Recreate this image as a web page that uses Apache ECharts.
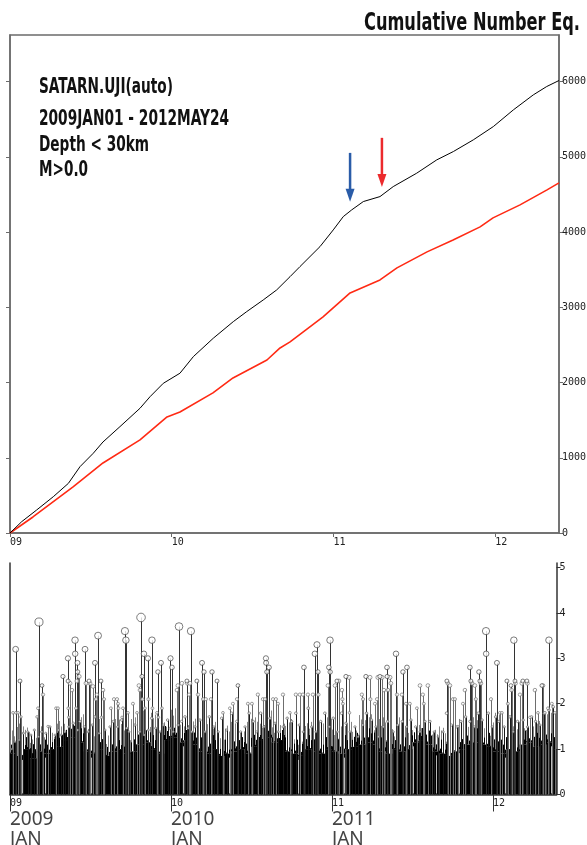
<!DOCTYPE html>
<html><head><meta charset="utf-8">
<script src="https://cdn.jsdelivr.net/npm/echarts@6/dist/echarts.min.js"></script>
<style>html,body{margin:0;padding:0;background:#fff}#c{width:587px;height:845px}</style>
</head><body><div id="c"></div>
<script>
// ---------- DATA ----------
const titleText = 'Cumulative Number Eq.';
const headerLines = ['SATARN.UJI(auto)', '2009JAN01 - 2012MAY24', 'Depth < 30km', 'M>0.0'];
const yearTickValues = [2009, 2010, 2011, 2012];
const yearTickLabels = ['09', '10', '11', '12'];
const bigYearLabels = ['2009', '2010', '2011'];
const monthLabel = 'JAN';
const cumTicks = [0, 1000, 2000, 3000, 4000, 5000, 6000];
const magTicks = [0, 1, 2, 3, 4, 5];

// cumulative number (all) : [decimal year, count]
const cumAll = [[2009.000,0],[2009.072,150],[2009.165,306],[2009.268,483],[2009.361,660],[2009.433,882],[2009.515,1060],[2009.575,1210],[2009.680,1414],[2009.804,1658],[2009.866,1812],[2009.948,1990],[2010.051,2124],[2010.134,2345],[2010.257,2589],[2010.381,2810],[2010.464,2943],[2010.566,3098],[2010.649,3231],[2010.732,3408],[2010.793,3541],[2010.917,3807],[2010.999,4029],[2011.061,4206],[2011.113,4295],[2011.185,4406],[2011.288,4472],[2011.370,4605],[2011.515,4783],[2011.639,4960],[2011.742,5071],[2011.865,5226],[2011.989,5403],[2012.113,5625],[2012.236,5824],[2012.319,5935],[2012.395,6015]];
// cumulative number (red) : [decimal year, count]
const cumRed = [[2009.000,0],[2009.142,213],[2009.390,612],[2009.575,931],[2009.804,1237],[2009.971,1543],[2010.051,1609],[2010.255,1862],[2010.379,2061],[2010.589,2300],[2010.670,2460],[2010.732,2540],[2010.936,2872],[2011.103,3191],[2011.288,3364],[2011.393,3524],[2011.579,3737],[2011.740,3896],[2011.907,4069],[2011.987,4189],[2012.154,4362],[2012.321,4561],[2012.395,4654]];
// arrows: [decimal year, count at tail, count at tip]
const arrowsData = [[2011.103, 5053, 4402], [2011.300, 5253, 4601]];

// events [decimal year, magnitude]
const bigEvents = [[2009.035,3.2],[2009.062,2.5],[2009.180,3.8],[2009.199,2.4],[2009.329,2.6],[2009.360,3.0],[2009.361,2.5],[2009.404,3.4],[2009.405,3.1],[2009.419,2.9],[2009.420,2.7],[2009.466,3.2],[2009.491,2.5],[2009.528,2.9],[2009.547,3.5],[2009.565,2.5],[2009.714,3.6],[2009.720,3.4],[2009.814,3.9],[2009.832,3.1],[2009.820,2.6],[2009.857,3.0],[2009.882,3.4],[2009.919,2.7],[2009.938,2.9],[2009.997,3.0],[2010.006,2.8],[2010.050,3.7],[2010.124,3.6],[2010.099,2.5],[2010.161,2.5],[2010.193,2.9],[2010.205,2.7],[2010.255,2.7],[2010.286,2.5],[2010.416,2.4],[2010.590,3.0],[2010.591,2.9],[2010.609,2.8],[2010.596,2.7],[2010.826,2.8],[2010.894,3.1],[2010.907,3.3],[2010.913,2.7],[2010.988,3.4],[2010.981,2.8],[2010.989,2.7],[2011.031,2.5],[2011.087,2.6],[2011.211,2.6],[2011.298,2.6],[2011.342,2.8],[2011.343,2.6],[2011.398,3.1],[2011.441,2.7],[2011.466,2.8],[2011.714,2.5],[2011.857,2.8],[2011.913,2.7],[2011.863,2.5],[2011.919,2.5],[2011.957,3.6],[2011.958,3.1],[2012.025,2.9],[2012.130,3.4],[2012.087,2.5],[2012.137,2.5],[2012.186,2.5],[2012.211,2.5],[2012.348,3.4],[2012.112,2.4],[2012.304,2.4]];
const midEvents = [[2009.019,1.8],[2009.037,1.8],[2009.050,1.8],[2009.068,1.71],[2009.168,1.71],[2009.174,1.9],[2009.205,2.2],[2009.236,1.5],[2009.286,1.9],[2009.298,1.9],[2009.362,1.9],[2009.365,1.7],[2009.373,2.45],[2009.385,2.3],[2009.410,1.9],[2009.416,2.5],[2009.429,2.6],[2009.472,2.45],[2009.497,2.45],[2009.516,2.38],[2009.534,2.1],[2009.540,2.2],[2009.568,1.7],[2009.578,2.3],[2009.584,2.1],[2009.627,1.9],[2009.646,2.1],[2009.665,2.1],[2009.671,2.0],[2009.674,1.9],[2009.696,1.7],[2009.702,1.9],[2009.733,1.8],[2009.764,2.0],[2009.789,1.8],[2009.801,2.4],[2009.807,2.3],[2009.823,2.1],[2009.838,1.9],[2009.860,2.1],[2009.885,1.9],[2009.913,1.8],[2009.922,1.7],[2009.944,1.9],[2010.037,2.3],[2010.043,2.4],[2010.068,2.45],[2010.102,2.45],[2010.118,2.45],[2010.112,2.2],[2010.168,2.2],[2010.199,2.1],[2010.217,2.1],[2010.248,2.1],[2010.323,1.8],[2010.366,1.9],[2010.385,2.0],[2010.410,2.1],[2010.478,2.0],[2010.503,2.0],[2010.540,2.2],[2010.571,2.1],[2010.584,2.1],[2010.634,2.1],[2010.652,2.1],[2010.665,2.0],[2010.696,2.2],[2010.739,1.8],[2010.776,2.2],[2010.801,2.2],[2010.820,2.2],[2010.851,2.2],[2010.882,2.2],[2010.916,2.2],[2010.975,2.4],[2011.019,2.4],[2011.043,2.5],[2011.062,2.3],[2011.065,2.1],[2011.068,2.0],[2011.106,2.58],[2011.109,1.8],[2011.186,2.2],[2011.193,2.1],[2011.236,2.58],[2011.239,2.1],[2011.267,2.0],[2011.286,2.58],[2011.280,2.1],[2011.311,2.58],[2011.323,2.3],[2011.348,2.3],[2011.360,2.58],[2011.366,2.45],[2011.404,2.2],[2011.435,2.2],[2011.460,2.0],[2011.484,2.0],[2011.528,1.9],[2011.547,2.4],[2011.565,2.2],[2011.571,2.0],[2011.596,2.4],[2011.720,2.45],[2011.733,2.4],[2011.752,2.1],[2011.764,2.1],[2011.783,1.5],[2011.814,2.0],[2011.826,2.3],[2011.870,2.45],[2011.888,2.4],[2011.894,2.1],[2011.925,2.45],[2011.988,2.1],[2012.043,1.8],[2012.056,1.8],[2012.093,2.0],[2012.116,2.3],[2012.140,2.45],[2012.168,2.2],[2012.180,2.45],[2012.214,2.45],[2012.230,1.7],[2012.261,2.3],[2012.280,1.8],[2012.311,2.4],[2012.323,1.8],[2012.342,1.9],[2012.366,2.0],[2012.385,1.8]];
const smallEvents = [[2009.011,1.0],[2009.031,1.16],[2009.056,1.2],[2009.083,1.35],[2009.110,1.38],[2009.130,1.31],[2009.151,1.42],[2009.176,1.27],[2009.197,1.38],[2009.222,1.35],[2009.248,1.49],[2009.280,1.31],[2009.300,1.42],[2009.317,1.31],[2009.342,1.38],[2009.366,1.49],[2009.393,1.57],[2009.420,1.42],[2009.435,1.61],[2009.462,1.49],[2009.486,1.38],[2009.511,1.53],[2009.528,1.71],[2009.553,1.35],[2009.590,1.42],[2009.621,1.49],[2009.642,1.61],[2009.669,1.49],[2009.694,1.64],[2009.725,1.46],[2009.739,1.38],[2009.776,1.53],[2009.807,1.38],[2009.834,1.31],[2009.859,1.42],[2009.880,1.68],[2009.905,1.46],[2009.932,1.38],[2009.952,1.53],[2009.979,1.64],[2009.994,1.46],[2010.014,1.38],[2010.045,1.53],[2010.066,1.61],[2010.087,1.71],[2010.107,1.46],[2010.128,1.38],[2010.149,1.49],[2010.180,1.64],[2010.211,1.38],[2010.238,1.71],[2010.267,1.49],[2010.294,1.38],[2010.315,1.68],[2010.346,1.42],[2010.377,1.79],[2010.408,1.61],[2010.433,1.38],[2010.460,1.49],[2010.486,1.79],[2010.511,1.61],[2010.532,1.38],[2010.557,1.79],[2010.578,1.49],[2010.615,1.68],[2010.646,1.57],[2010.666,1.38],[2010.697,1.49],[2010.722,1.68],[2010.750,1.61],[2010.776,1.79],[2010.797,1.53],[2010.822,1.38],[2010.853,1.9],[2010.874,1.49],[2010.901,1.38],[2010.930,1.61],[2010.956,1.79],[2010.983,1.49],[2011.008,1.68],[2011.033,1.38],[2011.060,1.79],[2011.087,1.57],[2011.112,1.38],[2011.143,1.49],[2011.163,1.27],[2011.191,1.53],[2011.215,1.79],[2011.246,1.64],[2011.273,1.49],[2011.288,1.27],[2011.319,1.49],[2011.346,1.61],[2011.381,1.38],[2011.408,1.53],[2011.437,1.61],[2011.464,1.49],[2011.491,1.64],[2011.520,1.49],[2011.547,1.38],[2011.578,1.61],[2011.609,1.61],[2011.635,1.38],[2011.660,1.27],[2011.691,1.38],[2011.712,1.79],[2011.743,1.53],[2011.774,1.49],[2011.801,1.61],[2011.830,1.71],[2011.857,1.61],[2011.884,1.49],[2011.909,1.79],[2011.933,1.64],[2011.971,1.79],[2011.996,1.49],[2012.017,1.71],[2012.037,1.61],[2012.070,1.49],[2012.106,1.71],[2012.126,1.38],[2012.153,1.61],[2012.188,1.64],[2012.215,1.49],[2012.240,1.71],[2012.265,1.61],[2012.292,1.53],[2012.319,1.79],[2012.348,1.86],[2012.374,1.93]];
// dense black mass per half-month bin (magnitude level reached by the solid black stems)
const floorLevel = [0.9,0.85,1.0,0.8,0.95,0.9,1.0,1.05,1.2,1.25,1.15,0.95,0.9,1.0,0.85,0.95,1.0,0.9,0.95,1.1,1.15,1.0,0.9,1.2,1.25,1.15,1.2,1.1,0.95,0.9,1.0,0.85,0.9,0.95,1.0,0.9,1.05,1.2,1.25,1.15,1.2,0.95,0.9,0.85,1.0,0.95,0.9,1.0,0.95,0.9,1.0,1.05,1.1,1.15,1.1,0.95,0.9,1.0,0.95,1.0,1.15,1.2,1.1,0.95,0.9,0.85,0.95,1.0,1.1,1.15,1.1,1.05,0.95,0.9,1.0,0.95,1.1,1.15,1.05,1.1,1.15,1.0];
// level reached by the dense grey stems per half-month bin
const greyLevel = [1.75,1.6,1.5,1.55,1.6,1.5,1.6,1.65,1.85,1.9,1.8,1.85,1.75,1.7,1.6,1.7,1.65,1.75,1.7,1.85,1.9,1.8,1.75,1.85,1.9,1.8,1.75,1.7,1.6,1.55,1.6,1.5,1.55,1.6,1.65,1.6,1.7,1.8,1.85,1.75,1.8,1.7,1.6,1.55,1.6,1.65,1.6,1.7,1.75,1.7,1.6,1.65,1.75,1.8,1.8,1.7,1.75,1.8,1.7,1.65,1.6,1.55,1.5,1.45,1.5,1.55,1.6,1.7,1.75,1.8,1.7,1.75,1.8,1.7,1.65,1.6,1.7,1.75,1.65,1.7,1.8,1.85];

// ---------- CHART ----------
const XMIN = 2009, XMAX = 2012.395;
const MONO = '"DejaVu Sans Mono", monospace';
const COND = '"Liberation Sans Narrow", "DejaVu Sans Condensed", "Roboto Condensed", sans-serif';
// drawing texture (style only): relative heights of hatch strokes, and black spike offsets in px
const HATCH_FRAC = [1, 0.55, 0.85, 0.35, 0.95, 0.6, 0.75, 0.45];
const SPIKE_PX = [9, 0, 4, 12, 2, 7, 0, 10, 3, 5, 14, 1];
const GAP_EVERY = 23;

const chart = echarts.init(document.getElementById('c'), null, {renderer: 'canvas'});

function fitScale(text, font, target) {
  const ctx = document.createElement('canvas').getContext('2d');
  ctx.font = font;
  return target / ctx.measureText(text).width;
}
const headerLayout = [{y: 88, w: 134}, {y: 120, w: 190}, {y: 146, w: 110}, {y: 171, w: 49}];
const graphics = [];
const tFont = 'bold 25px ' + COND;
graphics.push({type: 'text', x: 580, y: 23, scaleX: fitScale(titleText, tFont, 216),
  style: {text: titleText, font: tFont, fill: '#111', align: 'right', verticalAlign: 'middle', textAlign: 'right', textVerticalAlign: 'middle'}});
const hFont = 'bold 21px ' + COND;
headerLines.forEach((t, i) => {
  graphics.push({type: 'text', x: 39, y: headerLayout[i].y, scaleX: fitScale(t, hFont, headerLayout[i].w),
    style: {text: t, font: hFont, fill: '#111', align: 'left', verticalAlign: 'middle', textAlign: 'left', textVerticalAlign: 'middle'}});
});

const axisGrey = '#6b6b6b';
function stemSeries(events, color) {
  return {
    type: 'custom', xAxisIndex: 1, yAxisIndex: 2, silent: true,
    data: events,
    encode: {x: 0, y: 1},
    renderItem: (params, api) => {
      const p0 = api.coord([api.value(0), 0]);
      const p1 = api.coord([api.value(0), api.value(1)]);
      const x = Math.round(p0[0]) + 0.5;
      return {type: 'line', shape: {x1: x, y1: p0[1], x2: x, y2: p1[1]},
        style: {stroke: color, lineWidth: 1}};
    }
  };
}
function circleSeries(events, border) {
  return {
    type: 'scatter', xAxisIndex: 1, yAxisIndex: 2, silent: true,
    data: events,
    symbol: 'circle',
    symbolSize: (v) => 3 * Math.pow(10, 0.24 * (v[1] - 2)),
    itemStyle: {color: '#fff', borderColor: border, borderWidth: 0.8},
    z: 3
  };
}
const binData = floorLevel.map((v, i) => [XMIN + i / 24, Math.min(XMIN + (i + 1) / 24, XMAX), v, greyLevel[i]]);

const option = {
  animation: false,
  backgroundColor: '#fff',
  graphic: graphics,
  grid: [
    {left: 10, right: 28, top: 35, bottom: 312, show: true, borderColor: axisGrey, borderWidth: 1.5, backgroundColor: 'transparent', outerBoundsMode: 'none', containLabel: false},
    {left: 10, right: 30.5, top: 563, bottom: 50.5, outerBoundsMode: 'none', containLabel: false}
  ],
  xAxis: [
    {type: 'value', gridIndex: 0, min: XMIN, max: XMAX,
      axisLine: {show: true, lineStyle: {color: axisGrey, width: 1.5}},
      axisTick: {show: true, length: 4, customValues: yearTickValues, lineStyle: {color: axisGrey}},
      axisLabel: {customValues: yearTickValues, formatter: v => yearTickLabels[Math.round(v) - 2009],
        align: 'left', fontFamily: MONO, fontSize: 10, color: '#222', margin: 4},
      splitLine: {show: false}},
    {type: 'value', gridIndex: 1, min: XMIN, max: XMAX,
      axisLine: {show: true, lineStyle: {color: '#333', width: 1.5}},
      axisTick: {show: true, length: 17, customValues: yearTickValues, lineStyle: {color: '#333'}},
      axisLabel: {customValues: yearTickValues, align: 'left', margin: 3,
        formatter: v => {
          const i = Math.round(v) - 2009;
          let s = '{s|' + yearTickLabels[i] + '}';
          if (bigYearLabels[i]) s += '\n{b|' + bigYearLabels[i] + '}\n{b|' + monthLabel + '}';
          return s;
        },
        rich: {s: {fontFamily: MONO, fontSize: 10, color: '#222', lineHeight: 12},
               b: {fontFamily: '"Noto Sans", "Open Sans", sans-serif', fontSize: 19, color: '#444', lineHeight: 20}}},
      splitLine: {show: false}}
  ],
  yAxis: [
    {type: 'value', gridIndex: 0, position: 'right', min: 0, max: 6620,
      axisLine: {show: true, lineStyle: {color: axisGrey, width: 1.5}},
      axisTick: {show: true, length: 4, customValues: cumTicks, lineStyle: {color: axisGrey}},
      axisLabel: {customValues: cumTicks, formatter: v => String(v), fontFamily: MONO, fontSize: 10, color: '#222', margin: 3},
      splitLine: {show: false}},
    {type: 'value', gridIndex: 0, position: 'left', min: 0, max: 6620,
      axisLine: {show: true, lineStyle: {color: axisGrey, width: 1.5}},
      axisTick: {show: true, length: 4, customValues: cumTicks, lineStyle: {color: axisGrey}},
      axisLabel: {show: false}, splitLine: {show: false}},
    {type: 'value', gridIndex: 1, position: 'right', min: 0, max: 5.1,
      axisLine: {show: true, lineStyle: {color: '#333', width: 1.5}},
      axisTick: {show: true, length: 4, customValues: magTicks, lineStyle: {color: '#333'}},
      axisLabel: {customValues: magTicks, formatter: v => String(v), fontFamily: MONO, fontSize: 10, color: '#222', margin: 3},
      splitLine: {show: false}},
    {type: 'value', gridIndex: 1, position: 'left', min: 0, max: 5.1,
      axisLine: {show: true, lineStyle: {color: '#333', width: 1.5}},
      axisTick: {show: false}, axisLabel: {show: false}, splitLine: {show: false}}
  ],
  series: [
    {type: 'line', xAxisIndex: 0, yAxisIndex: 0, data: cumRed, showSymbol: false, silent: true,
      lineStyle: {color: '#ff2a14', width: 1.6}},
    {type: 'line', xAxisIndex: 0, yAxisIndex: 0, data: cumAll, showSymbol: false, silent: true,
      lineStyle: {color: '#000', width: 1}},
    {type: 'custom', xAxisIndex: 0, yAxisIndex: 0, silent: true, data: arrowsData.map((a, i) => [a[0], a[1], a[2], i]),
      encode: {x: 0, y: [1, 2]},
      renderItem: (params, api) => {
        const colors = ['#2a5ca8', '#ec2a2d'];
        const c = colors[api.value(3)];
        const p0 = api.coord([api.value(0), api.value(1)]);
        const p1 = api.coord([api.value(0), api.value(2)]);
        return {type: 'group', children: [
          {type: 'line', shape: {x1: p0[0], y1: p0[1], x2: p1[0], y2: p1[1] - 10}, style: {stroke: c, lineWidth: 2.5}},
          {type: 'polygon', shape: {points: [[p1[0] - 4.5, p1[1] - 13], [p1[0] + 4.5, p1[1] - 13], [p1[0], p1[1]]]}, style: {fill: c}}
        ]};
      }},
    // dense grey stems (hatch) and solid black mass per bin
    {type: 'custom', xAxisIndex: 1, yAxisIndex: 2, silent: true, data: binData, encode: {x: [0, 1], y: [2, 3]},
      renderItem: (params, api) => {
        const g = api.coord([api.value(0), api.value(3)]);
        const e = api.coord([api.value(1), 0]);
        const f = api.coord([api.value(0), api.value(2)]);
        const children = [];
        const span = f[1] - g[1];
        for (let x = Math.round(g[0]) + 0.5; x < e[0]; x += 2) {
          const k = Math.round(x) % HATCH_FRAC.length;
          children.push({type: 'line', shape: {x1: x, y1: f[1] - span * HATCH_FRAC[k], x2: x, y2: f[1]}, style: {stroke: '#858585', lineWidth: 1}});
        }
        children.push({type: 'rect', shape: {x: f[0], y: f[1], width: e[0] - f[0], height: e[1] - f[1]}, style: {fill: '#000'}});
        for (let x = Math.round(f[0]) + 0.5; x < e[0]; x += 1) {
          const s = SPIKE_PX[Math.round(x) % SPIKE_PX.length];
          if (s > 0) children.push({type: 'line', shape: {x1: x, y1: f[1] - s, x2: x, y2: f[1]}, style: {stroke: '#000', lineWidth: 1}});
          if (Math.round(x) % GAP_EVERY === 0) children.push({type: 'line', shape: {x1: x, y1: f[1] + 4, x2: x, y2: e[1] - 1}, style: {stroke: '#bbb', lineWidth: 1}});
        }
        return {type: 'group', children: children};
      }},
    stemSeries(midEvents, '#6e6e6e'),
    stemSeries(smallEvents, '#1a1a1a'),
    stemSeries(bigEvents, '#333'),
    circleSeries(smallEvents, '#555'),
    circleSeries(midEvents, '#666'),
    circleSeries(bigEvents, '#333')
  ]
};
chart.setOption(option);
</script>
</body></html>
